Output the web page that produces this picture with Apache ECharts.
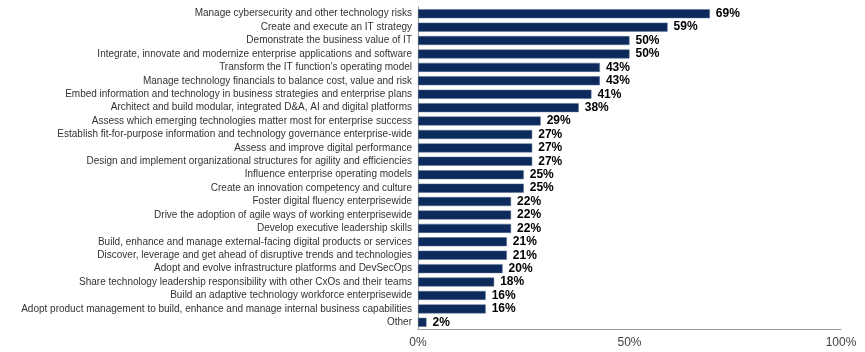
<!DOCTYPE html>
<html>
<head>
<meta charset="utf-8">
<script src="https://cdn.jsdelivr.net/npm/echarts@6/dist/echarts.min.js"></script>
<style>
  html, body { margin: 0; padding: 0; background: #fff; }
  #chart { width: 865px; height: 352px; }
</style>
</head>
<body>
<div id="chart"></div>
<script>
// categories, top to bottom
var categories = [
  "Manage cybersecurity and other technology risks",
  "Create and execute an IT strategy",
  "Demonstrate the business value of IT",
  "Integrate, innovate and modernize enterprise applications and software",
  "Transform the IT function\u2019s operating model",
  "Manage technology financials to balance cost, value and risk",
  "Embed information and technology in business strategies and enterprise plans",
  "Architect and build modular, integrated D&A, AI and digital platforms",
  "Assess which emerging technologies matter most for enterprise success",
  "Establish fit-for-purpose information and technology governance enterprise-wide",
  "Assess and improve digital performance",
  "Design and implement organizational structures for agility and efficiencies",
  "Influence enterprise operating models",
  "Create an innovation competency and culture",
  "Foster digital fluency enterprisewide",
  "Drive the adoption of agile ways of working enterprisewide",
  "Develop executive leadership skills",
  "Build, enhance and manage external-facing digital products or services",
  "Discover, leverage and get ahead of disruptive trends and technologies",
  "Adopt and evolve infrastructure platforms and DevSecOps",
  "Share technology leadership responsibility with other CxOs and their teams",
  "Build an adaptive technology workforce enterprisewide",
  "Adopt product management to build, enhance and manage internal business capabilities",
  "Other"
];
var values = [69, 59, 50, 50, 43, 43, 41, 38, 29, 27, 27, 27, 25, 25, 22, 22, 22, 21, 21, 20, 18, 16, 16, 2];
var xTicks = [0, 50, 100];

var myChart = echarts.init(document.getElementById("chart"));
var option = {
  animation: false,
  textStyle: { fontFamily: "Liberation Sans, Arial, sans-serif" },
  grid: { left: 418, right: 24, top: 7, bottom: 23 },
  xAxis: {
    type: "value",
    min: 0,
    max: 100,
    interval: 50,
    splitLine: { show: false },
    axisLine: { show: true, lineStyle: { color: "#9a9a9a", width: 1 } },
    axisTick: { show: false },
    axisLabel: {
      color: "#404040",
      fontSize: 12,
      margin: 8,
      formatter: function (v) {
        return xTicks.indexOf(v) >= 0 ? v + "%" : "";
      }
    }
  },
  yAxis: {
    type: "category",
    inverse: true,
    data: categories,
    axisLine: { show: true, lineStyle: { color: "#9a9a9a", width: 1 } },
    axisTick: { show: false },
    axisLabel: {
      color: "#333",
      fontSize: 10,
      margin: 6,
      interval: 0
    }
  },
  series: [{
    type: "bar",
    data: values,
    barWidth: 9,
    itemStyle: { color: "#0c2a5b", borderColor: "#5b7190", borderWidth: 0.5 },
    label: {
      show: true,
      position: "right",
      distance: 6,
      color: "#000",
      fontWeight: "bold",
      fontSize: 12,
      formatter: "{c}%"
    }
  }]
};
myChart.setOption(option);
</script>
</body>
</html>
